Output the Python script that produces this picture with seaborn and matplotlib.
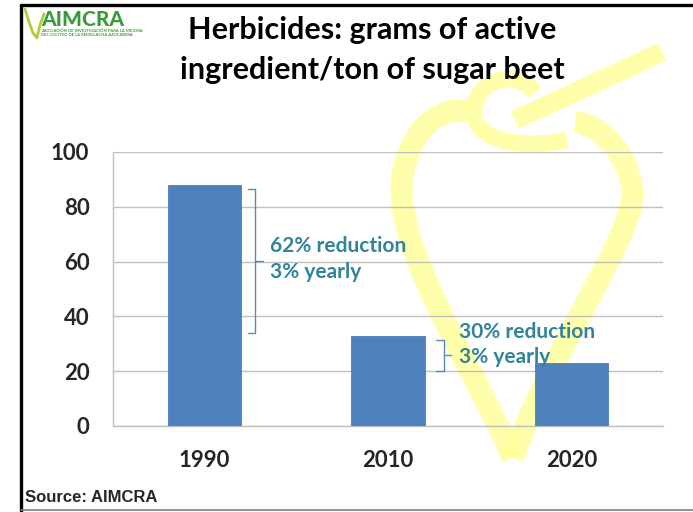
import matplotlib.pyplot as plt
import seaborn as sns
import pandas as pd
from matplotlib.path import Path
from matplotlib.patches import PathPatch
from matplotlib.lines import Line2D

years = ['1990', '2010', '2020']
grams = [88, 33, 23]
notes = ['62% reduction\n3% yearly', '30% reduction\n3% yearly']

sns.set_theme(style='white')
plt.rcParams['font.family'] = ['Lato', 'DejaVu Sans']

W, H = 693, 512
fig = plt.figure(figsize=(W / 100, H / 100), dpi=100)


def px(x, y):
    # pixel (top-left origin) -> figure fraction
    return (x / W, 1 - y / H)


def stroke(points, codes, lw):
    fig.add_artist(PathPatch(Path([px(*p) for p in points], codes), transform=fig.transFigure,
                             fill=False, ec='#FFFF9C', lw=lw, alpha=0.85, zorder=0,
                             capstyle='butt'))


# watermark: pale yellow sugar beet logo behind the chart
C4 = Path.CURVE4
stroke([(513, 458), (470, 360), (395, 250), (402, 180), (408, 130), (440, 105), (468, 112)],
       [Path.MOVETO] + [C4] * 6, 16)
stroke([(513, 458), (560, 330), (640, 230), (632, 185), (625, 150), (600, 125), (575, 122)],
       [Path.MOVETO] + [C4] * 6, 16)
stroke([(662, 52), (515, 120)], [Path.MOVETO, Path.LINETO], 14)
stroke([(535, 92), (515, 68), (476, 80), (474, 110), (472, 140), (520, 150), (567, 140)],
       [Path.MOVETO] + [C4] * 6, 12)

ax = fig.add_axes([113 / W, 1 - 426 / H, (663 - 113) / W, (426 - 152) / H])
ax.set_facecolor('none')
df = pd.DataFrame({'year': years, 'grams': grams})
sns.barplot(data=df, x='year', y='grams', color='#4F81BD', saturation=1, width=0.40,
            edgecolor='#4A7EBB', linewidth=0.6, ax=ax, zorder=3)

ax.set_ylim(0, 100)
ax.set_xlim(-0.5, 2.5)
ax.set_yticks(range(0, 101, 20))
ax.yaxis.grid(True, color='#BFBFBF', lw=1)
ax.set_axisbelow(True)
for s in ['top', 'right']:
    ax.spines[s].set_visible(False)
for s in ['left', 'bottom']:
    ax.spines[s].set_color('#BFBFBF')
    ax.spines[s].set_linewidth(1)
ax.set_xlabel('')
ax.set_ylabel('')
ax.tick_params(axis='y', length=4, color='#BFBFBF', pad=13, labelsize=16)
ax.tick_params(axis='x', length=0, pad=17, labelsize=16)
ax.set_xticks([-0.5, 0.5, 1.5, 2.5], minor=True)
ax.tick_params(axis='x', which='minor', length=5, color='#BFBFBF')
for t in ax.get_xticklabels() + ax.get_yticklabels():
    t.set_fontweight('bold')

# brackets and annotation texts
brace = '#5B87C0'
teal = '#31849B'
for xv, top, bot, hook, nub in [(0.276, grams[0] - 1.5, grams[1] + 1, 0.235, 0.32),
                                (1.303, grams[1] - 1.5, grams[2] - 3, 1.262, 1.342)]:
    mid = (top + bot) / 2
    ax.plot([hook, xv, xv, hook], [top, top, bot, bot], color=brace, lw=1, zorder=4)
    ax.plot([xv, nub], [mid, mid], color=brace, lw=1, zorder=4)
ax.text(0.358, 61, notes[0], color=teal, fontsize=15, fontweight='bold',
        va='center', ha='left', linespacing=1.35, zorder=5)
ax.text(1.385, 29.8, notes[1], color=teal, fontsize=15, fontweight='bold',
        va='center', ha='left', linespacing=1.35, zorder=5)

# title
fig.text(*px(372, 30), 'Herbicides: grams of active', ha='center', va='center',
         fontsize=22, fontweight='bold', color='black')
fig.text(*px(372, 70), 'ingredient/ton of sugar beet', ha='center', va='center',
         fontsize=22, fontweight='bold', color='black')

# frame
fig.add_artist(Line2D([px(21, 0)[0]] * 2, [px(0, 5)[1], 0], color='black', lw=2.4))
fig.add_artist(Line2D([px(21, 0)[0], 1], [px(0, 5)[1]] * 2, color='black', lw=2.4))
fig.add_artist(Line2D([px(21, 0)[0], 1], [px(0, 510)[1]] * 2, color='#808080', lw=1.2))

# logo
green = '#3A9A3A'
logo = [(25, 9), (29, 22), (33, 33), (37, 38), (40, 25), (44, 14)]
fig.add_artist(Line2D([px(*p)[0] for p in logo], [px(*p)[1] for p in logo],
                      color='#B5CC3A', lw=2))
fig.text(*px(41, 19), 'AIMCRA', ha='left', va='center', fontsize=15,
         fontweight='black', color=green)
fig.text(*px(41, 33), 'ASOCIACIÓN DE INVESTIGACIÓN PARA LA MEJORA\nDEL CULTIVO DE LA REMOLACHA AZUCARERA',
         ha='left', va='center', fontsize=3, fontweight='bold', color=green, linespacing=1.2)

fig.text(*px(25, 498), 'Source: AIMCRA', ha='left', va='center', fontsize=12,
         fontweight='bold', family=['Liberation Sans', 'DejaVu Sans'])

fig.savefig('out.png', dpi=100)
